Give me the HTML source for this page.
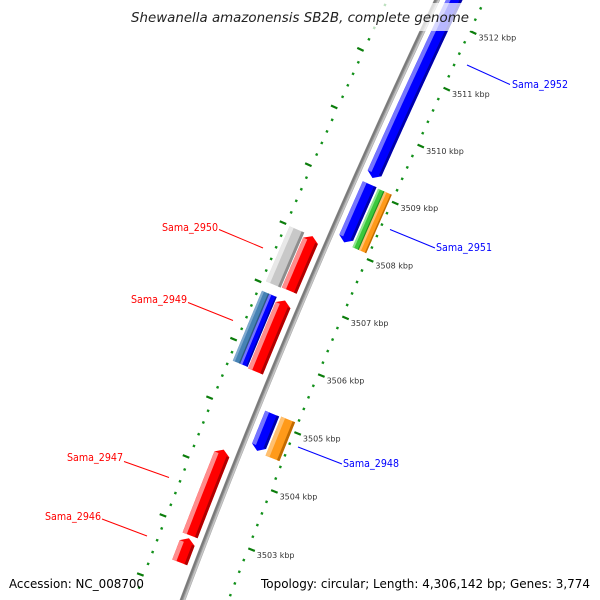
<!DOCTYPE html>
<html>
<head>
<meta charset="utf-8">
<style>
html,body{margin:0;padding:0;background:#fff;}
svg{display:block;}
text{font-family:"DejaVu Sans","Liberation Sans",sans-serif;}
</style>
</head>
<body>
<svg id="map" width="600" height="600" viewBox="0 0 600 600" xmlns="http://www.w3.org/2000/svg">
<rect x="0" y="0" width="600" height="600" fill="#fff"/>
<g id="rings"></g>
<g id="backbone"></g>
<g id="features"></g>
<g id="ticklabels"></g>
<g id="labels"></g>
<rect x="128" y="3" width="344" height="28" fill="#fff" fill-opacity="0.72"/>
<text x="131" y="22" font-size="13.5" font-style="italic" fill="#222" textLength="338" lengthAdjust="spacingAndGlyphs">Shewanella amazonensis SB2B, complete genome</text>
<text x="9" y="588" font-size="12" fill="#000" textLength="135" lengthAdjust="spacingAndGlyphs">Accession: NC_008700</text>
<text x="590" y="588" font-size="12" fill="#000" text-anchor="end" textLength="329" lengthAdjust="spacingAndGlyphs">Topology: circular; Length: 4,306,142 bp; Genes: 3,774</text>
</svg>
<script>
// ---- data ----
const geneIds    = ['sama-2952','gene-blue-3509','sama-2951-green','sama-2951-orange','sama-2950-grey','gene-red-3507','sama-2949-steel','sama-2949-blue','gene-red-3506','gene-blue-3505','sama-2948','sama-2947','sama-2946'];
const geneStart  = [3509.22, 3508.10, 3508.08, 3508.08, 3507.04, 3507.05, 3505.68, 3505.68, 3505.66, 3504.50, 3504.48, 3502.86, 3502.40];
const geneEnd    = [3513.90, 3509.11, 3509.10, 3509.10, 3507.99, 3507.99, 3506.88, 3506.88, 3506.88, 3505.14, 3505.15, 3504.32, 3502.81];
const geneStrand = [-1, -1, 0, 0, 0, 1, 0, 0, 1, -1, 0, 1, 1];
const geneTrack  = ['RA','RA','RBin','RBout','LB','LA','LBout','LBin','LA','RA','RB','LA','LA'];
const geneColor  = ['blue','blue','green','orange','grey','red','steel','blue','red','blue','orange','red','red'];
const tickKbp    = [3503,3504,3505,3506,3507,3508,3509,3510,3511,3512];
const tickText   = ['3503 kbp','3504 kbp','3505 kbp','3506 kbp','3507 kbp','3508 kbp','3509 kbp','3510 kbp','3511 kbp','3512 kbp'];
const labelText  = ['Sama_2952','Sama_2951','Sama_2948','Sama_2950','Sama_2949','Sama_2947','Sama_2946'];
const labelColor = ['#0000ff','#0000ff','#0000ff','#ff0000','#ff0000','#ff0000','#ff0000'];

// ---- geometry (layout) ----
const CX = 7668.6, CY = 3421.2;
const K0 = 3503, PHI0 = -2.77221, DPHI = 0.007862;
const KMIN = 3501.8, KMAX = 3514.0;
const TRACKS = {
  LA:[8008,8024], LB:[8025,8041], LBout:[8033,8041], LBin:[8025,8033],
  RA:[7977,7992], RB:[7960,7975], RBin:[7968,7975], RBout:[7960,7968]
};
const COLORS = {
  red:['#ff0000','#ff8c8c','#b00000'], blue:['#0000ff','#7474ff','#0000a8'],
  grey:['#c8c8c8','#e8e8e8','#8e8e8e'], steel:['#4682b4','#7fa9cf','#2d5a80'],
  green:['#3cc83c','#8ee68e','#219021'], orange:['#ff9a1a','#ffc070','#c06a00']
};
const RING_L = 8045, RING_R = 7957;
const NS = 'http://www.w3.org/2000/svg';

function ang(k){ return PHI0 + (k - K0) * DPHI; }
function pt(k, r){ const a = ang(k); return [CX + r*Math.cos(a), CY + r*Math.sin(a)]; }
function fmt(p){ return p[0].toFixed(2) + ',' + p[1].toFixed(2); }

function bandPts(k1, k2, r1, r2, arrow, head){
  const pts = [];
  let a1 = k1, a2 = k2;
  if (arrow === 1) a2 = k2 - head;
  if (arrow === -1) a1 = k1 + head;
  const n = Math.max(2, Math.ceil((a2 - a1) / 0.05));
  for (let i = 0; i <= n; i++) pts.push(pt(a1 + (a2 - a1) * i / n, r2));
  if (arrow === 1) pts.push(pt(k2, (r1 + r2) / 2));
  for (let i = n; i >= 0; i--) pts.push(pt(a1 + (a2 - a1) * i / n, r1));
  if (arrow === -1) pts.push(pt(k1, (r1 + r2) / 2));
  return pts.map(fmt).join(' ');
}

// rings: dots every 0.2 kbp, ticks at whole kbp
const rings = document.getElementById('rings');
for (let i = Math.round(KMIN * 5); i <= Math.round(KMAX * 5); i++) {
  const k = i / 5;
  const isTick = (i % 5 === 0);
  [[RING_L, 1], [RING_R, -1]].forEach(function (ring) {
    const r = ring[0], dir = ring[1];
    const p1 = isTick ? pt(k, r) : pt(k, r - 1.2);
    const p2 = isTick ? pt(k, r + dir * 7) : pt(k, r + 1.2);
    const ln = document.createElementNS(NS, 'line');
    ln.setAttribute('x1', p1[0]); ln.setAttribute('y1', p1[1]);
    ln.setAttribute('x2', p2[0]); ln.setAttribute('y2', p2[1]);
    ln.setAttribute('stroke', isTick ? '#0b7d0b' : '#12901a');
    ln.setAttribute('stroke-width', isTick ? 2.2 : 2.4);
    
    
    rings.appendChild(ln);
  });
}

// backbone
const bb = document.getElementById('backbone');
[[8000, '#9a9a9a', 5.5], [8001.4, '#7a7a7a', 2], [7998.4, '#c4c4c4', 1.6]].forEach(function (s) {
  const pts = [];
  for (let k = KMIN; k <= KMAX + 0.001; k += 0.1) pts.push(fmt(pt(k, s[0])));
  const pl = document.createElementNS(NS, 'polyline');
  pl.setAttribute('points', pts.join(' '));
  pl.setAttribute('fill', 'none');
  pl.setAttribute('stroke', s[1]);
  pl.setAttribute('stroke-width', s[2]);
  
  
  bb.appendChild(pl);
});

// features
const fg = document.getElementById('features');
const HEAD = 0.08;
for (let i = 0; i < geneIds.length; i++) {
  const tr = TRACKS[geneTrack[i]];
  const r1 = tr[0], r2 = tr[1], w = r2 - r1;
  const col = COLORS[geneColor[i]];
  const arrow = geneStrand[i];
  const g = document.createElementNS(NS, 'g');
  
  
  const main = document.createElementNS(NS, 'polygon');
  main.setAttribute('points', bandPts(geneStart[i], geneEnd[i], r1, r2, arrow, HEAD));
  main.setAttribute('fill', col[0]);
  
  
  g.appendChild(main);
  const ks = arrow === -1 ? geneStart[i] + HEAD : geneStart[i];
  const ke = arrow === 1 ? geneEnd[i] - HEAD : geneEnd[i];
  const hi = document.createElementNS(NS, 'polygon');
  hi.setAttribute('points', bandPts(ks, ke, r2 - w * 0.28, r2, 0, 0));
  hi.setAttribute('fill', col[1]);
  
  
  g.appendChild(hi);
  const sh = document.createElementNS(NS, 'polygon');
  sh.setAttribute('points', bandPts(ks, ke, r1, r1 + w * 0.18, 0, 0));
  sh.setAttribute('fill', col[2]);
  
  
  g.appendChild(sh);
  fg.appendChild(g);
}

// tick labels
const tl = document.getElementById('ticklabels');
for (let i = 0; i < tickKbp.length; i++) {
  const p = pt(tickKbp[i], RING_R);
  const t = document.createElementNS(NS, 'text');
  t.setAttribute('x', (p[0] + 8.5).toFixed(1));
  t.setAttribute('y', (p[1] + 9.5).toFixed(1));
  t.setAttribute('font-size', '8');
  t.setAttribute('fill', '#333');
  t.textContent = tickText[i];
  
  
  tl.appendChild(t);
}

// gene labels (layout positions)
const LBL_POS = [
  [512, 88, 'start', 467, 65, 510, 84.5],
  [436, 251, 'start', 390, 229.5, 435, 248],
  [343, 467, 'start', 298, 447, 342, 464],
  [218, 231, 'end', 219, 229.5, 263, 248],
  [187, 303, 'end', 188, 302.5, 233, 320.5],
  [123, 461, 'end', 124, 461.5, 169, 477.5],
  [101, 520, 'end', 102, 519, 147, 536]
];
const lg = document.getElementById('labels');
for (let i = 0; i < labelText.length; i++) {
  const L = LBL_POS[i];
  const ln = document.createElementNS(NS, 'line');
  ln.setAttribute('x1', L[3]); ln.setAttribute('y1', L[4]);
  ln.setAttribute('x2', L[5]); ln.setAttribute('y2', L[6]);
  ln.setAttribute('stroke', labelColor[i]);
  ln.setAttribute('stroke-width', '1');
  
  
  lg.appendChild(ln);
  const t = document.createElementNS(NS, 'text');
  t.setAttribute('x', L[0]); t.setAttribute('y', L[1]);
  t.setAttribute('text-anchor', L[2]);
  t.setAttribute('font-size', '10.5');
  t.setAttribute('fill', labelColor[i]);
  t.setAttribute('textLength', '56');
  t.setAttribute('lengthAdjust', 'spacingAndGlyphs');
  t.textContent = labelText[i];
  
  
  lg.appendChild(t);
}
</script>
</body>
</html>
